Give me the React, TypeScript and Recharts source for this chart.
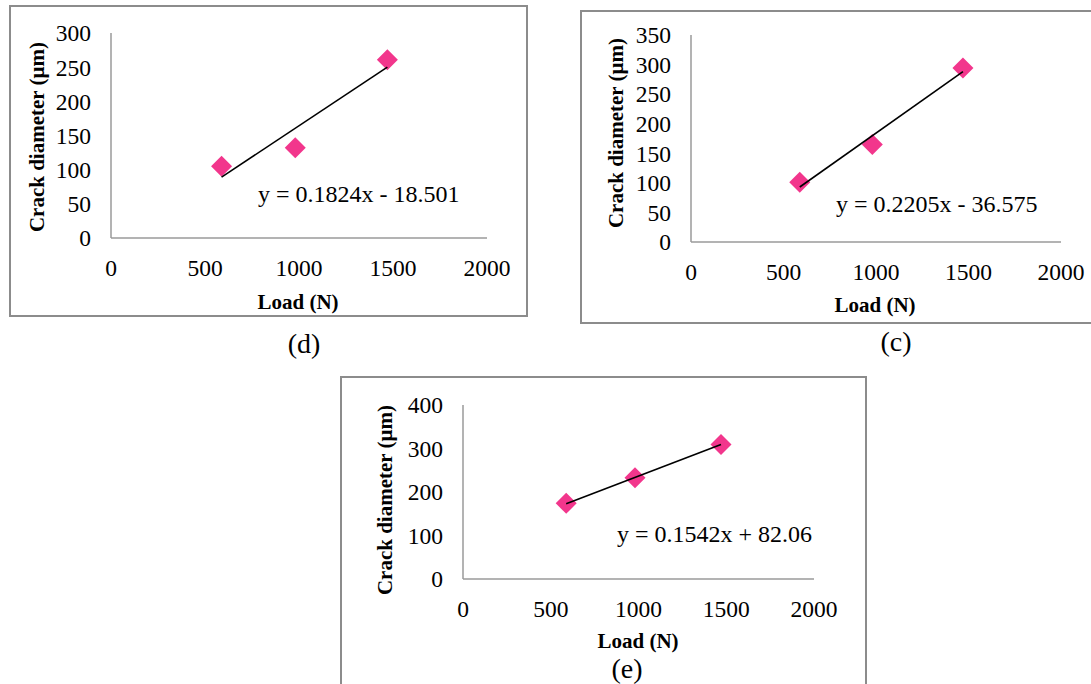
import { ScatterChart, Scatter, XAxis, YAxis } from 'recharts';

// loads used for the three indentations (N)
const loads = [588, 980, 1470];
const trendLoads = [588, 1470];
const xTicks = [0, 500, 1000, 1500, 2000];

// (d)
const diamD = [105, 132, 261];
const trendD = [89, 250];
const yTicksD = [0, 50, 100, 150, 200, 250, 300];

// (c)
const diamC = [101, 165, 294];
const trendC = [93, 288];
const yTicksC = [0, 50, 100, 150, 200, 250, 300, 350];

// (e)
const diamE = [174, 233, 309];
const trendE = [173, 309];
const yTicksE = [0, 100, 200, 300, 400];

const FONT = "'Liberation Serif', 'Times New Roman', serif";
const PINK = '#F2368C';

const toPts = (xs: number[], ys: number[]) => xs.map((x, i) => ({ x, y: ys[i] }));

const Diamond = (props: any) => {
  const { cx, cy } = props;
  if (cx == null || cy == null) return <g />;
  const r = 10.5;
  return <polygon points={`${cx},${cy - r} ${cx + r},${cy} ${cx},${cy + r} ${cx - r},${cy}`} fill={PINK} />;
};

interface PanelProps {
  left: number;
  top: number;
  width: number;
  height: number;
  mTop: number;
  mRight: number;
  yWidth: number;
  xHeight: number;
  yTicks: number[];
  values: number[];
  trend: number[];
  equation: string;
  eqX: number;
  eqY: number;
  yLab: [number, number];
  xLab: [number, number];
}

function Panel(p: PanelProps) {
  const yMax = p.yTicks[p.yTicks.length - 1];
  return (
    <>
      <div style={{ position: 'absolute', left: p.left, top: p.top }}>
        <ScatterChart
          width={p.width}
          height={p.height}
          margin={{ top: p.mTop, right: p.mRight, bottom: 0, left: 0 }}
        >
          <XAxis
            type="number"
            dataKey="x"
            domain={[0, 2000]}
            ticks={xTicks}
            interval={0}
            height={p.xHeight}
            tickLine={false}
            tickMargin={15}
            axisLine={{ stroke: '#9a9a9a', strokeWidth: 1.5 }}
            tick={{ fill: '#000', fontSize: 23.5, fontFamily: FONT }}
          />
          <YAxis
            type="number"
            dataKey="y"
            domain={[0, yMax]}
            ticks={p.yTicks}
            interval={0}
            width={p.yWidth}
            tickLine={false}
            tickMargin={14}
            axisLine={{ stroke: '#9a9a9a', strokeWidth: 1.5 }}
            tick={{ fill: '#000', fontSize: 23.5, fontFamily: FONT }}
          />
          <Scatter data={toPts(loads, p.values)} shape={Diamond} isAnimationActive={false} />
          <Scatter
            data={toPts(trendLoads, p.trend)}
            line={{ stroke: '#000', strokeWidth: 1.6 }}
            lineType="joint"
            shape={() => <g />}
            isAnimationActive={false}
          />
        </ScatterChart>
      </div>
      <svg
        width={p.width}
        height={p.height}
        style={{ position: 'absolute', left: p.left, top: p.top, pointerEvents: 'none', overflow: 'visible' }}
      >
        <rect x={1} y={1} width={p.width - 2} height={p.height - 2} fill="none" stroke="#8c8c8c" strokeWidth={2} />
        <text
          x={p.yLab[0]}
          y={p.yLab[1]}
          transform={`rotate(-90 ${p.yLab[0]} ${p.yLab[1]})`}
          textAnchor="middle"
          dominantBaseline="central"
          fontFamily={FONT}
          fontWeight="bold"
          fontSize={21}
        >
          Crack diameter (µm)
        </text>
        <text
          x={p.xLab[0]}
          y={p.xLab[1]}
          textAnchor="middle"
          dominantBaseline="central"
          fontFamily={FONT}
          fontWeight="bold"
          fontSize={21}
        >
          Load (N)
        </text>
        <text x={p.eqX} y={p.eqY} fontFamily={FONT} fontSize={24}>
          {p.equation}
        </text>
      </svg>
    </>
  );
}

const captionStyle = (cx: number, cy: number): React.CSSProperties => ({
  position: 'absolute',
  left: cx - 30,
  top: cy - 13,
  width: 60,
  height: 26,
  lineHeight: '26px',
  textAlign: 'center',
  fontFamily: FONT,
  fontSize: 28,
});

export default function App() {
  return (
    <div
      style={{
        position: 'absolute',
        left: 0,
        top: 0,
        width: 1091,
        height: 684,
        overflow: 'hidden',
        background: '#fff',
      }}
    >
      <Panel
        left={9}
        top={5}
        width={519}
        height={312}
        mTop={28}
        mRight={41}
        yWidth={102}
        xHeight={79}
        yTicks={yTicksD}
        values={diamD}
        trend={trendD}
        equation="y = 0.1824x - 18.501"
        eqX={249}
        eqY={197}
        yLab={[28, 132]}
        xLab={[289, 297]}
      />
      <div style={captionStyle(304, 344)}>(d)</div>

      <Panel
        left={580}
        top={10}
        width={520}
        height={314}
        mTop={25}
        mRight={39}
        yWidth={111}
        xHeight={82}
        yTicks={yTicksC}
        values={diamC}
        trend={trendC}
        equation="y = 0.2205x - 36.575"
        eqX={256}
        eqY={202}
        yLab={[36, 123]}
        xLab={[295, 295]}
      />
      <div style={captionStyle(896, 342)}>(c)</div>

      <Panel
        left={340}
        top={376}
        width={527}
        height={330}
        mTop={29}
        mRight={53}
        yWidth={123}
        xHeight={127}
        yTicks={yTicksE}
        values={diamE}
        trend={trendE}
        equation="y = 0.1542x + 82.06"
        eqX={277}
        eqY={166}
        yLab={[45, 124]}
        xLab={[298, 265]}
      />
      <div style={captionStyle(627, 669)}>(e)</div>
    </div>
  );
}
